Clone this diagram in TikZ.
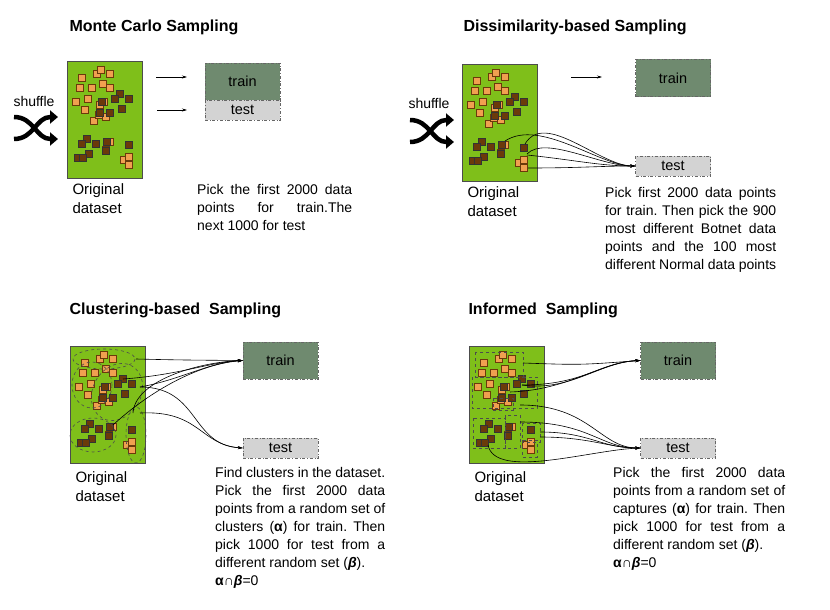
\documentclass[tikz,border=0pt]{standalone}
\usepackage{fontspec}
\setmainfont{Liberation Sans}
\usetikzlibrary{arrows.meta}
\frenchspacing
\hyphenpenalty=10000
\exhyphenpenalty=10000
\definecolor{dsgreen}{HTML}{7FBF1A}
\definecolor{orng}{HTML}{F0A050}
\definecolor{brwn}{HTML}{6B3A0A}
\definecolor{trainc}{HTML}{6F8A6F}
\definecolor{testc}{HTML}{D3D3D3}
\tikzset{
  dsbox/.style={draw=black!70, fill=dsgreen, line width=0.6pt},
  osq/.style={draw=brwn, fill=orng, line width=0.5pt, minimum size=7pt, inner sep=0pt},
  bsq/.style={draw=black!80, fill=brwn, line width=0.5pt, minimum size=7pt, inner sep=0pt},
  trainbox/.style={draw=black!60, dash dot, fill=trainc, minimum width=75pt, minimum height=37pt, inner sep=0pt, font=\fontsize{14.5}{17}\selectfont},
  testbox/.style={draw=black!60, dash dot, fill=testc, minimum width=75pt, minimum height=20pt, inner sep=0pt, font=\fontsize{14.5}{17}\selectfont},
  ttl/.style={anchor=west, font=\fontsize{16}{18}\selectfont\bfseries},
  lbl/.style={anchor=north west, align=left, font=\fontsize{15}{19}\selectfont},
  desc/.style={anchor=north west, align=justify, font=\fontsize{14}{18}\selectfont, inner sep=0pt},
  arr/.style={line width=0.6pt, -{Stealth[length=5pt,width=3pt]}},
  clus/.style={dashed, draw=black!70, line width=0.6pt},
  shuf/.style={line width=4.5pt, -{Triangle[length=8pt,width=13pt]}},
}
\newcommand{\dataset}[2]{%
\begin{scope}[shift={(#1,#2)}]
\draw[dsbox] (0,0) rectangle (75,117);
\foreach \x/\y in {15/17,30/13,34/9,43/13,13/27,25/27,36/23,43/27,9/41,21/38,18/49,33/44,37/41,27/60,39/56,32/54,43/81,39/89,57/99,62/96,62/104}
  \node[osq] at (\x,\y) {};
\foreach \x/\y in {53/33,48/38,62/38,55/48,43/52,33/52,35/41,20/78,15/83,29/83,40/81,62/84,39/90,22/93,11/97,16/97}
  \node[bsq] at (\x,\y) {};
\end{scope}}
\newcommand{\shuffleicon}[2]{%
\begin{scope}[shift={(#1,#2)}]
\draw[shuf] (0,2) .. controls (20,2) and (22,24) .. (44,24);
\draw[shuf] (0,24) .. controls (20,24) and (22,2) .. (44,2);
\end{scope}}
\begin{document}
\begin{tikzpicture}[x=1pt,y=-1pt]
\useasboundingbox (0,0) rectangle (830,610);
% Panel 1
\node[ttl] (t1) at (66,27) {Monte Carlo Sampling};
\node[anchor=west, font=\fontsize{14}{16}\selectfont] (s1) at (10,101) {shuffle};
\shuffleicon{14}{115}
\dataset{67}{61}
\node[lbl] (o1) at (69,180) {Original\\dataset};
\node[trainbox] (tr1) at (242.5,81.5) {train};
\node[testbox] (te1) at (242.5,110) {test};
\coordinate (a1) at (156,77); \coordinate (b1) at (187,77);
\coordinate (a2) at (157,110); \coordinate (b2) at (187,110);
\draw[arr] (a1) -- (b1); \draw[arr] (a2) -- (b2);
\node[desc, text width=155pt] (d1) at (197,184) {Pick the first 2000 data points for train.The\linebreak next 1000 for test};
% Panel 2
\node[ttl] (t2) at (460,27) {Dissimilarity-based Sampling};
\node[anchor=west, font=\fontsize{14}{16}\selectfont] (s2) at (405,103) {shuffle};
\shuffleicon{410}{118}
\dataset{462}{64}
\node[lbl] (o2) at (464,183) {Original\\dataset};
\node[trainbox] (tr2) at (673,78) {train};
\node[testbox] (te2) at (673,166) {test};
\coordinate (a3) at (571,77); \coordinate (b3) at (602,77);
\draw[arr] (a3) -- (b3);
\foreach \s/\c in {{(525,144)}/{(545,110)}, {(505,141)}/{(540,118)}, {(527,154)}/{(545,135)}, {(527,155)}/{(575,160)}, {(528,168)}/{(580,168)}}
  \draw[arr] \s .. controls \c and (600,166) .. (te2.west);
\node[desc, text width=171pt] (d2) at (605,187) {Pick first 2000 data points for train. Then pick the 900 most different Botnet data points and the 100 most different Normal data points};
% Panel 3
\node[ttl] (t3) at (66,310) {Clustering-based~ Sampling};
\dataset{70}{346}
\draw[clus] (104,359) ellipse (31 and 10);
\draw[clus] (92,385) ellipse (20 and 23);
\draw[clus,rotate around={-30:(117,392)}] (117,392) ellipse (24 and 30);
\draw[clus] (93,435) ellipse (23 and 17);
\draw[clus] (136,435) ellipse (10 and 28);
\node[lbl] (o3) at (72,468) {Original\\dataset};
\node[trainbox] (tr3) at (280.5,360.5) {train};
\node[testbox] (te3) at (280.5,448) {test};
\coordinate (c1) at (136,359); \coordinate (c2) at (123,379); \coordinate (c3) at (140,387);
\coordinate (c4) at (133,413); \coordinate (c5) at (113,425); \coordinate (c6) at (140,413);
\draw[arr] (c1) .. controls (180,360) .. (tr3.west);
\draw[arr] (c2) .. controls (180,375) and (210,362) .. (tr3.west);
\draw[arr] (c3) .. controls (180,380) and (210,362) .. (tr3.west);
\draw[arr] (c4) .. controls (135,380) and (200,362) .. (tr3.west);
\draw[arr] (c5) .. controls (140,400) and (190,365) .. (tr3.west);
\draw[arr] (c3) .. controls (200,387) and (190,445) .. (te3.west);
\draw[arr] (c6) .. controls (200,410) and (200,445) .. (te3.west);
\node[desc, text width=170pt] (d3) at (215,467) {Find clusters in the dataset. Pick the first 2000 data points from a random set of clusters (\textbf{α}) for train. Then pick 1000 for test from a different random set (\textbf{\textit{β}}).\\ \textbf{α}∩\textbf{\textit{β}}=0};
% Panel 4
\node[ttl] (t4) at (465,310) {Informed~ Sampling};
\dataset{469}{346}
\draw[clus] (475,352) rectangle (523,377);
\draw[clus] (472,377) rectangle (537,408);
\draw[clus] (493,398) rectangle (513,410);
\draw[clus] (473,418) rectangle (505,448);
\draw[clus] (505,415) rectangle (520,448);
\draw[clus] (522,423) rectangle (540,442);
\draw[clus] (522,440) rectangle (537,457);
\node[lbl] (o4) at (471,468) {Original\\dataset};
\node[trainbox] (tr4) at (678,360.5) {train};
\node[testbox] (te4) at (678,448) {test};
\coordinate (e1) at (523,363); \coordinate (e2) at (522,385); \coordinate (e3) at (510,392);
\coordinate (e4) at (520,405); \coordinate (e5) at (520,422); \coordinate (e6) at (540,432);
\coordinate (e7) at (540,437); \coordinate (e8) at (488,445);
\draw[arr] (e1) .. controls (580,365) .. (tr4.west);
\draw[arr] (e2) .. controls (585,385) and (600,362) .. (tr4.west);
\draw[arr] (e2) .. controls (570,392) and (600,362) .. (tr4.west);
\draw[arr] (e3) .. controls (570,390) and (600,362) .. (tr4.west);
\draw[arr] (e4) .. controls (590,405) and (600,448) .. (te4.west);
\draw[arr] (e5) .. controls (590,422) and (600,448) .. (te4.west);
\draw[arr] (e6) .. controls (590,432) and (600,448) .. (te4.west);
\draw[arr] (e7) .. controls (590,437) and (610,448) .. (te4.west);
\draw[arr] (e8) .. controls (495,480) and (590,450) .. (te4.west);
\node[desc, text width=172pt] (d4) at (613,467) {Pick the first 2000 data points from a random set of captures (\textbf{α}) for train. Then pick 1000 for test from a different random set (\textbf{\textit{β}}).\\ \textbf{α}∩\textbf{\textit{β}}=0};
\end{tikzpicture}
\end{document}
